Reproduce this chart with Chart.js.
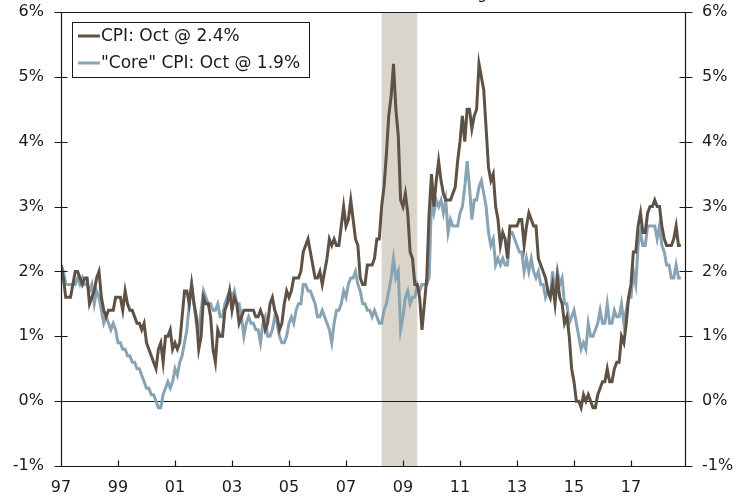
<!DOCTYPE html>
<html>
<head>
<meta charset="utf-8">
<script src="https://cdn.jsdelivr.net/npm/chart.js@4.4.1/dist/chart.umd.min.js"></script>
<style>
  html, body { margin: 0; padding: 0; background: #fff; }
  #wrap { width: 748px; height: 499px; }
</style>
</head>
<body>
<div id="wrap"><canvas id="cpi-chart" width="748" height="499"></canvas></div>
<script>
// monthly year-over-year rates, Jan 1997 .. Oct 2018
const startYear = 1997;

const cpi = [
  2.1, 1.9, 1.6, 1.6, 1.6, 1.8, 2.0, 2.0, 1.9, 1.8, 1.9, 1.9,
  1.5, 1.6, 1.7, 1.9, 2.0, 1.6, 1.4, 1.3, 1.4, 1.4, 1.4, 1.6,
  1.6, 1.6, 1.4, 1.7, 1.5, 1.4, 1.4, 1.3, 1.2, 1.2, 1.1, 1.2,
  0.9, 0.8, 0.7, 0.6, 0.5, 0.8, 0.9, 0.6, 1.0, 1.0, 1.1, 0.8,
  0.9, 0.8, 0.9, 1.3, 1.7, 1.7, 1.5, 1.8, 1.5, 1.3, 0.8, 1.0,
  1.6, 1.5, 1.5, 1.3, 0.8, 0.6, 1.1, 1.0, 1.0, 1.4, 1.5, 1.7,
  1.4, 1.6, 1.5, 1.2, 1.3, 1.4, 1.4, 1.4, 1.4, 1.4, 1.3, 1.3,
  1.4, 1.3, 1.1, 1.2, 1.5, 1.6, 1.4, 1.3, 1.1, 1.2, 1.5, 1.7,
  1.6, 1.7, 1.9, 1.9, 1.9, 2.0, 2.3, 2.4, 2.5, 2.3, 2.1, 1.9,
  1.9, 2.0, 1.8, 2.0, 2.2, 2.5, 2.4, 2.5, 2.4, 2.4, 2.7, 3.0,
  2.7, 2.8, 3.1, 2.8, 2.5, 2.4, 1.9, 1.8, 1.8, 2.1, 2.1, 2.1,
  2.2, 2.5, 2.5, 3.0, 3.3, 3.8, 4.4, 4.7, 5.2, 4.5, 4.1, 3.1,
  3.0, 3.2, 2.9, 2.3, 2.2, 1.8, 1.8, 1.6, 1.1, 1.5, 1.9, 2.9,
  3.5, 3.0, 3.4, 3.7, 3.4, 3.2, 3.1, 3.1, 3.1, 3.2, 3.3, 3.7,
  4.0, 4.4, 4.0, 4.5, 4.5, 4.2, 4.4, 4.5, 5.2, 5.0, 4.8, 4.2,
  3.6, 3.4, 3.5, 3.0, 2.8, 2.4, 2.6, 2.5, 2.2, 2.7, 2.7, 2.7,
  2.7, 2.8, 2.8, 2.4, 2.7, 2.9, 2.8, 2.7, 2.7, 2.2, 2.1, 2.0,
  1.9, 1.7, 1.6, 1.8, 1.5, 1.9, 1.6, 1.5, 1.2, 1.3, 1.0, 0.5,
  0.3, 0.0, 0.0, -0.1, 0.1, 0.0, 0.1, 0.0, -0.1, -0.1, 0.1, 0.2,
  0.3, 0.3, 0.5, 0.3, 0.3, 0.5, 0.6, 0.6, 1.0, 0.9, 1.2, 1.6,
  1.8, 2.3, 2.3, 2.7, 2.9, 2.6, 2.6, 2.9, 3.0, 3.0, 3.1, 3.0,
  3.0, 2.7, 2.5, 2.4, 2.4, 2.4, 2.5, 2.7, 2.4, 2.4
];

const core = [
  2.1, 2.0, 1.8, 1.8, 1.8, 1.8, 1.8, 1.9, 1.8, 1.9, 1.8, 1.8,
  1.7, 1.8, 1.5, 1.7, 1.6, 1.4, 1.2, 1.3, 1.2, 1.1, 1.2, 1.1,
  0.9, 0.9, 0.8, 0.8, 0.7, 0.7, 0.6, 0.6, 0.5, 0.5, 0.4, 0.3,
  0.2, 0.2, 0.1, 0.1, 0.0, -0.1, -0.1, 0.1, 0.2, 0.3, 0.2, 0.3,
  0.5, 0.4, 0.6, 0.7, 0.9, 1.1, 1.5, 1.8, 1.5, 1.2, 1.1, 1.4,
  1.7, 1.6, 1.5, 1.5, 1.4, 1.4, 1.5, 1.3, 1.3, 1.5, 1.6, 1.7,
  1.6, 1.7, 1.5, 1.5, 1.3, 1.0, 1.2, 1.3, 1.2, 1.2, 1.1, 1.1,
  0.9, 1.2, 1.3, 1.0, 1.0, 1.1, 1.3, 1.2, 1.0, 0.9, 0.9, 1.0,
  1.2, 1.3, 1.2, 1.4, 1.5, 1.5, 1.8, 1.8, 1.7, 1.7, 1.6, 1.5,
  1.3, 1.3, 1.4, 1.3, 1.2, 1.1, 0.9, 1.2, 1.4, 1.4, 1.5, 1.7,
  1.6, 1.8, 1.9, 1.9, 2.0, 1.8, 1.7, 1.5, 1.5, 1.4, 1.4, 1.3,
  1.4, 1.3, 1.2, 1.2, 1.4, 1.5, 1.7, 1.9, 2.2, 1.9, 2.0, 1.1,
  1.3, 1.6, 1.7, 1.5, 1.6, 1.6, 1.8, 1.7, 1.8, 1.8, 1.8, 1.9,
  3.1, 2.9, 3.1, 3.0, 3.1, 2.9, 3.1, 2.6, 2.8, 2.7, 2.7, 2.7,
  2.9, 3.0, 3.3, 3.7, 3.3, 2.8, 3.1, 3.1, 3.3, 3.4, 3.2, 3.0,
  2.6, 2.4, 2.5, 2.1, 2.2, 2.1, 2.2, 2.1, 2.1, 2.6, 2.6, 2.5,
  2.4, 2.3, 2.3, 2.0, 2.2, 2.0, 2.2, 2.0, 1.9, 2.0, 1.8, 1.8,
  1.6, 1.7, 1.6, 2.0, 1.6, 2.0, 1.8, 1.9, 1.5, 1.5, 1.2, 1.3,
  1.4, 1.2, 1.0, 0.8, 0.9, 0.8, 1.2, 1.0, 1.0, 1.1, 1.2, 1.4,
  1.2, 1.2, 1.5, 1.2, 1.2, 1.4, 1.3, 1.3, 1.5, 1.2, 1.4, 1.6,
  1.6, 2.0, 1.8, 2.4, 2.6, 2.4, 2.4, 2.7, 2.7, 2.7, 2.7, 2.5,
  2.7, 2.4, 2.3, 2.1, 2.1, 1.9, 1.9, 2.1, 1.9, 1.9
];

const seriesNames = ['CPI: Oct @ 2.4%', '"Core" CPI: Oct @ 1.9%'];
const xTickYears = [1997, 1999, 2001, 2003, 2005, 2007, 2009, 2011, 2013, 2015, 2017];
const yTicks = [-1, 0, 1, 2, 3, 4, 5, 6];
const recession = [2008.25, 2009.5];
const subtitle = 'Year-over-Year Percent Change';

const CPI_COLOR = '#5e5146';
const CORE_COLOR = '#87a3b4';
const SHADE_COLOR = '#d9d5ca';
const INK = '#1a1a1a';
const FONT = '"DejaVu Sans", Verdana, sans-serif';

const toPoints = (arr) => arr.map((v, i) => ({ x: startYear + i / 12, y: v }));

// recession band + zero line under the lines, frame/ticks/legend on top
const framePlugin = {
    id: 'frame',
    beforeDatasetsDraw(chart) {
        const { ctx, chartArea: a, scales: { x, y } } = chart;
        ctx.save();
        ctx.fillStyle = SHADE_COLOR;
        const x0 = x.getPixelForValue(recession[0]);
        const x1 = x.getPixelForValue(recession[1]);
        ctx.fillRect(x0, a.top, x1 - x0, a.bottom - a.top);

        const y0 = Math.round(y.getPixelForValue(0)) + 0.5;
        ctx.strokeStyle = INK;
        ctx.lineWidth = 1;
        ctx.beginPath();
        ctx.moveTo(a.left, y0);
        ctx.lineTo(a.right, y0);
        ctx.stroke();
        ctx.restore();
    },
    afterDatasetsDraw(chart) {
        const { ctx, chartArea: a, scales: { x, y } } = chart;
        const L = Math.round(a.left) + 0.5, R = Math.round(a.right) + 0.5;
        const T = Math.round(a.top) + 0.5, B = Math.round(a.bottom) + 0.5;
        ctx.save();
        ctx.strokeStyle = INK;
        ctx.lineWidth = 1.2;
        ctx.beginPath();
        ctx.moveTo(L, B); ctx.lineTo(L, T); ctx.lineTo(R, T); ctx.lineTo(R, B); ctx.lineTo(L, B);
        // y ticks cross both side axes
        yTicks.forEach(v => {
            const py = Math.round(y.getPixelForValue(v)) + 0.5;
            ctx.moveTo(L - 7, py); ctx.lineTo(L + 6, py);
            ctx.moveTo(R - 6, py); ctx.lineTo(R + 7, py);
        });
        // x ticks point up into the plot
        xTickYears.forEach(v => {
            const px = Math.round(x.getPixelForValue(v)) + 0.5;
            ctx.moveTo(px, B); ctx.lineTo(px, B - 6);
        });
        ctx.stroke();

        // legend box
        const bx = 72.5, by = 22.5, bw = 237, bh = 55;
        ctx.fillStyle = '#fff';
        ctx.fillRect(bx, by, bw, bh);
        ctx.lineWidth = 1;
        ctx.strokeRect(bx, by, bw, bh);
        const colors = [CPI_COLOR, CORE_COLOR];
        ctx.font = '17px ' + FONT;
        ctx.textBaseline = 'middle';
        ctx.textAlign = 'left';
        seriesNames.forEach((name, i) => {
            const ly = 36 + i * 27;
            ctx.strokeStyle = colors[i];
            ctx.lineWidth = 3;
            ctx.beginPath();
            ctx.moveTo(78, ly); ctx.lineTo(100, ly);
            ctx.stroke();
            ctx.fillStyle = INK;
            ctx.fillText(name, 101, ly + 1);
        });

        // subtitle sits above the crop, only its descenders show
        ctx.font = '16px ' + FONT;
        ctx.textAlign = 'right';
        ctx.textBaseline = 'alphabetic';
        ctx.fillText(subtitle, 497, -1);
        ctx.restore();
    }
};

const pct = (v) => v + '%';
const noGrid = { display: false, drawTicks: false, tickLength: 0 };
const flatPad = (s) => { s.paddingTop = 0; s.paddingBottom = 0; s.paddingLeft = 0; s.paddingRight = 0; };

new Chart(document.getElementById('cpi-chart'), {
    type: 'line',
    data: {
        datasets: [
            {
                label: seriesNames[0],
                data: toPoints(cpi),
                borderColor: CPI_COLOR,
                borderWidth: 3,
                pointRadius: 0,
                tension: 0
            },
            {
                label: seriesNames[1],
                data: toPoints(core),
                borderColor: CORE_COLOR,
                borderWidth: 3,
                pointRadius: 0,
                tension: 0
            }
        ]
    },
    options: {
        responsive: false,
        animation: false,
        devicePixelRatio: 1,
        layout: { padding: { top: 12, left: 0, right: 0, bottom: 0 } },
        plugins: { legend: { display: false }, tooltip: { enabled: false } },
        scales: {
            x: {
                type: 'linear',
                min: 1997,
                max: 1997 + 624 / 28.5,
                afterBuildTicks: (s) => { s.ticks = xTickYears.map(v => ({ value: v })); },
                afterFit: (s) => { s.height = 33; flatPad(s); },
                grid: noGrid,
                border: { display: false },
                ticks: {
                    autoSkip: false,
                    maxRotation: 0,
                    padding: 12,
                    color: INK,
                    font: { family: FONT, size: 16 },
                    callback: (v) => String(v).slice(2)
                }
            },
            y: {
                min: -1,
                max: 6,
                position: 'left',
                afterBuildTicks: (s) => { s.ticks = yTicks.map(v => ({ value: v })); },
                afterFit: (s) => { s.width = 61; flatPad(s); },
                grid: noGrid,
                border: { display: false },
                ticks: { padding: 17, color: INK, font: { family: FONT, size: 16 }, callback: pct }
            },
            y2: {
                min: -1,
                max: 6,
                position: 'right',
                afterBuildTicks: (s) => { s.ticks = yTicks.map(v => ({ value: v })); },
                afterFit: (s) => { s.width = 63; flatPad(s); },
                grid: noGrid,
                border: { display: false },
                ticks: { padding: 17, color: INK, font: { family: FONT, size: 16 }, callback: pct }
            }
        }
    },
    plugins: [framePlugin]
});
</script>
</body>
</html>
